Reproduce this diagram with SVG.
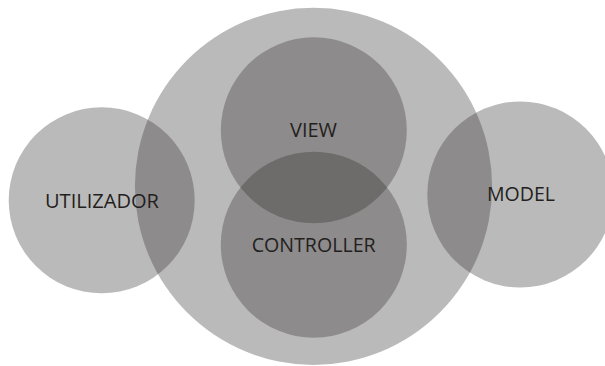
<svg xmlns="http://www.w3.org/2000/svg" width="605" height="366" viewBox="0 0 605 366">
<style>
.c{fill:#2d2b2c;fill-opacity:0.324}
.t{font-family:"Open Sans","Liberation Sans",sans-serif;font-size:20px;fill:#231f20;text-anchor:middle}
</style>
<rect width="605" height="366" fill="#ffffff"/>
<g id="app">
<circle class="c" cx="313.5" cy="186.3" r="178.6"/>
</g>
<g id="utilizador">
<circle class="c" cx="101.7" cy="200.3" r="93"/>
<text class="t" x="102" y="207.5" textLength="114" lengthAdjust="spacingAndGlyphs">UTILIZADOR</text>
</g>
<g id="model">
<circle class="c" cx="520.3" cy="194.5" r="93"/>
<text class="t" x="521" y="200.7" textLength="68" lengthAdjust="spacingAndGlyphs">MODEL</text>
</g>
<g id="view">
<circle class="c" cx="313.8" cy="130.3" r="93"/>
<text class="t" x="313.5" y="137" textLength="47" lengthAdjust="spacingAndGlyphs">VIEW</text>
</g>
<g id="controller">
<circle class="c" cx="313.8" cy="244.7" r="93"/>
<text class="t" x="313.7" y="251.7" textLength="124" lengthAdjust="spacingAndGlyphs">CONTROLLER</text>
</g>
<g id="connectors"></g>
</svg>
